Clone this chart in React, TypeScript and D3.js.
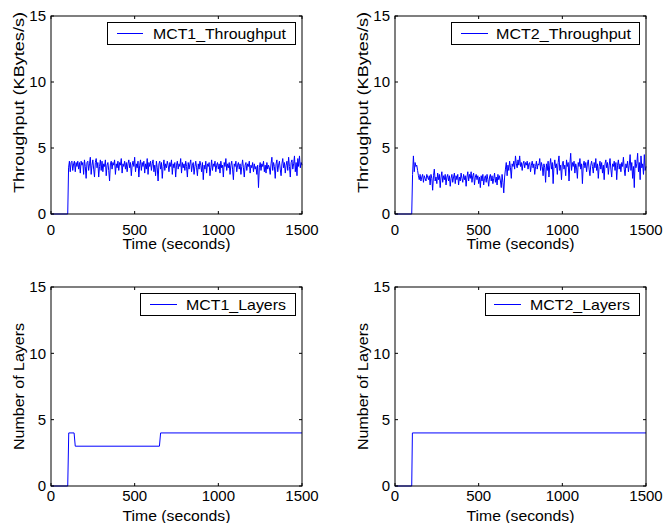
import React from "react";
import * as d3 from "d3";

// ---------- DATA ----------
const xTicks = [0, 500, 1000, 1500];
const yTicks = [0, 5, 10, 15];
const thrStart = 100; // seconds
const thrStep = 5; // seconds between samples

const mct1Throughput = [
  0,
  3.5, 4.0, 3.2, 3.9, 4.0, 3.3, 3.8, 4.0, 3.2, 3.9, 3.6, 4.0, 3.4, 3.9, 3.1, 4.0, 3.7, 3.9, 3.0, 4.1,
  3.6, 2.7, 3.9, 4.0, 3.3, 3.8, 4.3, 3.0, 3.7, 4.1, 3.4, 2.8, 3.9, 4.2, 3.5, 3.9, 2.8, 3.6, 4.1, 3.3,
  4.0, 3.2, 3.8, 3.6, 4.1, 2.9, 3.7, 3.9, 3.3, 2.5, 3.8, 4.0, 3.4, 3.9, 3.7, 4.1, 3.0, 3.8, 3.5, 4.0,
  3.3, 3.9, 3.7, 4.2, 3.1, 3.8, 3.6, 4.0, 3.4, 3.9, 3.2, 3.8, 4.1, 3.5, 3.9, 2.9, 3.7, 4.0, 3.6, 4.3,
  3.2, 3.8, 3.5, 4.0, 2.8, 3.7, 4.1, 3.3, 3.9, 3.6, 4.0, 3.1, 3.8, 3.4, 4.2, 3.0, 3.9, 3.6, 4.0, 3.3,
  3.8, 4.1, 3.2, 3.7, 2.9, 4.0, 3.5, 2.5, 3.8, 4.0, 3.4, 3.9, 2.7, 3.6, 4.1, 3.3, 3.8, 3.5, 4.0, 3.7,
  3.2, 3.9, 3.6, 4.1, 3.0, 3.8, 3.5, 3.9, 2.8, 3.7, 4.0, 3.4, 3.8, 3.6, 4.2, 3.1, 3.9, 3.5, 3.8, 3.3,
  4.0, 3.6, 2.8, 3.9, 3.4, 3.8, 4.1, 3.2, 3.7, 3.9, 3.0, 3.6, 4.0, 3.5, 2.9, 3.8, 3.4, 4.0, 3.7, 3.2,
  3.9, 2.6, 3.7, 3.4, 4.0, 3.1, 3.8, 3.6, 3.9, 2.9, 3.5, 4.1, 3.3, 3.8, 3.6, 4.0, 3.2, 3.7, 3.9, 3.4,
  3.8, 3.1, 4.0, 3.5, 3.7, 2.8, 3.9, 3.6, 4.2, 3.3, 3.8, 3.5, 3.9, 3.0, 3.7, 4.0, 3.4, 2.6, 3.8, 3.6,
  4.0, 3.2, 3.7, 3.9, 3.4, 3.8, 3.0, 3.6, 4.1, 3.5, 2.8, 3.7, 3.9, 3.3, 3.8, 3.6, 4.0, 3.1, 3.7, 3.5,
  3.9, 3.2, 3.8, 3.4, 3.6, 3.0, 3.7, 2.0, 3.5, 3.9, 3.3, 3.8, 3.6, 4.0, 3.2, 3.7, 3.1, 3.9, 3.4, 3.7,
  3.5, 3.0, 3.8, 4.3, 3.3, 3.9, 3.6, 2.7, 3.8, 4.1, 3.2, 3.7, 4.0, 3.4, 2.9, 3.8, 4.2, 3.5, 3.9, 3.1,
  3.7, 4.0, 3.3, 4.3, 3.6, 2.8, 3.9, 4.1, 3.4, 3.8, 4.4, 3.2, 3.9, 2.9, 4.2, 3.6, 4.4, 3.5, 3.9, 3.7,
];

const mct2Throughput = [
  0,
  3.0, 4.4, 3.2, 3.9, 3.6, 3.7, 3.3, 2.9, 2.6, 3.0, 2.5, 2.8, 3.0, 2.4, 2.9, 2.7, 2.5, 3.0, 2.8, 2.6,
  2.9, 2.2, 3.0, 2.7, 1.8, 2.9, 3.4, 2.5, 2.8, 2.3, 3.1, 2.6, 3.0, 2.0, 2.8, 3.2, 2.4, 2.9, 2.6, 3.0,
  2.2, 2.8, 3.0, 2.5, 2.9, 2.1, 2.7, 3.0, 2.4, 2.8, 3.1, 2.3, 2.9, 2.6, 3.0, 2.2, 2.8, 2.5, 3.1, 2.7,
  2.4, 3.0, 2.6, 2.9, 2.1, 2.8, 3.2, 2.5, 3.0, 2.7, 3.2, 2.4, 2.9, 3.1, 2.2, 2.8, 3.0, 2.6, 2.9, 2.3,
  2.8, 2.0, 2.9, 2.5, 3.0, 2.2, 2.7, 2.9, 2.4, 3.0, 2.6, 2.1, 2.8, 3.0, 2.5, 2.9, 2.3, 2.7, 3.1, 2.4,
  2.8, 2.2, 3.0, 2.6, 2.9, 2.5, 2.0, 3.0, 2.4, 1.6, 2.8, 3.4, 3.9, 2.9, 3.7, 3.3, 4.0, 3.5, 2.7, 3.8,
  3.6, 4.0, 3.4, 4.4, 3.8, 3.5, 4.1, 3.7, 4.4, 3.6, 3.9, 3.3, 3.8, 4.0, 3.5, 3.9, 3.7, 4.0, 3.4, 3.8,
  3.9, 3.2, 3.7, 4.0, 3.5, 3.8, 3.0, 3.6, 4.0, 3.4, 3.8, 3.7, 4.2, 3.3, 3.9, 3.6, 2.9, 3.8, 3.5, 2.4,
  3.8, 3.3, 4.0, 2.8, 3.7, 4.2, 3.4, 3.9, 2.3, 3.6, 4.1, 3.5, 3.8, 3.0, 3.9, 4.4, 3.3, 3.7, 2.6, 3.8,
  4.0, 3.4, 3.7, 2.9, 4.1, 3.6, 3.9, 2.5, 3.8, 4.6, 3.3, 3.9, 3.6, 4.0, 3.1, 3.8, 3.5, 2.7, 3.9, 3.6,
  4.2, 3.4, 3.8, 2.3, 3.7, 4.0, 3.5, 3.9, 3.2, 3.8, 4.1, 3.4, 2.9, 3.7, 4.0, 3.6, 3.1, 3.9, 3.5, 4.2,
  3.3, 3.8, 2.7, 3.6, 4.0, 3.4, 3.9, 3.1, 3.7, 2.6, 3.8, 4.1, 3.5, 3.9, 3.0, 3.7, 4.2, 3.4, 2.8, 3.8,
  3.6, 4.0, 3.3, 3.9, 2.6, 3.7, 4.1, 3.4, 3.8, 3.2, 3.9, 3.6, 4.3, 3.4, 2.9, 3.8, 3.5, 4.0, 3.2, 3.7,
  4.5, 3.3, 3.9, 2.7, 3.6, 2.0, 4.1, 3.5, 3.8, 4.6, 3.2, 3.9, 2.6, 4.4, 3.5, 3.8, 3.0, 4.5, 3.3, 3.6,
];

const mct1LayerTimes = [0, 100, 106, 138, 145, 648, 655, 1500];
const mct1LayerValues = [0, 0, 4, 4, 3, 3, 4, 4];
const mct2LayerTimes = [0, 100, 104, 1500];
const mct2LayerValues = [0, 0, 4, 4];

type Pt = [number, number];

function throughputPoints(vals: number[]): Pt[] {
  const pts: Pt[] = [[0, 0]];
  vals.forEach((v, i) => pts.push([thrStart + i * thrStep, v]));
  return pts;
}
function stepPoints(ts: number[], vs: number[]): Pt[] {
  return ts.map((t, i) => [t, vs[i]] as Pt);
}

const FONT = "'Liberation Sans', Arial, Helvetica, sans-serif";
const BLUE = "#0000ff";

interface PanelProps {
  left: number;
  right: number;
  top: number;
  bottom: number;
  data: Pt[];
  yLabel: string;
  yLabelLen: number;
  yLabelCenter: number;
  yLabelX: number;
  xTickBaseline: number;
  xLabelBaseline: number;
  legend: string;
  legendBox: { x0: number; x1: number; y0: number; y1: number; lx0: number; lx1: number; tx: number; tLen: number };
}

function Panel(p: PanelProps) {
  const x = d3.scaleLinear().domain([0, 1500]).range([p.left, p.right]);
  const y = d3.scaleLinear().domain([0, 15]).range([p.bottom, p.top]);
  const line = d3
    .line<Pt>()
    .x((d) => x(d[0]))
    .y((d) => y(d[1]));
  const tl = 3;
  const lb = p.legendBox;
  const ly = (lb.y0 + lb.y1) / 2;
  const xMid = (p.left + p.right) / 2;
  return (
    <g fontFamily={FONT} fill="#000">
      <path d={line(p.data) || ""} fill="none" stroke={BLUE} strokeWidth={1} />
      {/* frame */}
      <rect
        x={p.left}
        y={p.top}
        width={p.right - p.left}
        height={p.bottom - p.top}
        fill="none"
        stroke="#000"
        strokeWidth={1}
      />
      {/* x ticks */}
      {xTicks.map((t) => (
        <g key={"xt" + t}>
          <line x1={x(t)} x2={x(t)} y1={p.bottom} y2={p.bottom - tl} stroke="#000" />
          <line x1={x(t)} x2={x(t)} y1={p.top} y2={p.top + tl} stroke="#000" />
          <text x={x(t)} y={p.xTickBaseline} fontSize={15} textAnchor="middle">
            {t}
          </text>
        </g>
      ))}
      {/* y ticks */}
      {yTicks.map((t) => (
        <g key={"yt" + t}>
          <line x1={p.left} x2={p.left + tl} y1={y(t)} y2={y(t)} stroke="#000" />
          <line x1={p.right} x2={p.right - tl} y1={y(t)} y2={y(t)} stroke="#000" />
          <text x={p.left - 5} y={y(t)} dy="0.36em" fontSize={15} textAnchor="end">
            {t}
          </text>
        </g>
      ))}
      {/* axis labels */}
      <text
        x={xMid}
        y={p.xLabelBaseline}
        fontSize={15}
        textAnchor="middle"
        textLength={108}
        lengthAdjust="spacingAndGlyphs"
      >
        Time (seconds)
      </text>
      <text
        transform={`translate(${p.yLabelX},${p.yLabelCenter}) rotate(-90)`}
        fontSize={15}
        textAnchor="middle"
        textLength={p.yLabelLen}
        lengthAdjust="spacingAndGlyphs"
      >
        {p.yLabel}
      </text>
      {/* legend */}
      <rect
        x={lb.x0}
        y={lb.y0}
        width={lb.x1 - lb.x0}
        height={lb.y1 - lb.y0}
        fill="#fff"
        stroke="#000"
        strokeWidth={1}
      />
      <line x1={lb.lx0} x2={lb.lx1} y1={ly} y2={ly} stroke={BLUE} strokeWidth={1} />
      <text
        x={lb.tx}
        y={ly}
        dy="0.36em"
        fontSize={15}
        textLength={lb.tLen}
        lengthAdjust="spacingAndGlyphs"
      >
        {p.legend}
      </text>
    </g>
  );
}

export default function App() {
  return (
    <svg
      width={666}
      height={523}
      style={{ position: "absolute", left: 0, top: 0, background: "#fff" }}
    >
      <rect width={666} height={523} fill="#fff" />
      <Panel
        left={51}
        right={302}
        top={16}
        bottom={214}
        data={throughputPoints(mct1Throughput)}
        yLabel="Throughput (KBytes/s)"
        yLabelLen={181}
        yLabelCenter={102.5}
        yLabelX={24}
        xTickBaseline={235}
        xLabelBaseline={249}
        legend="MCT1_Throughput"
        legendBox={{ x0: 107.5, x1: 295.5, y0: 22.5, y1: 44.5, lx0: 117, lx1: 143, tx: 153, tLen: 133 }}
      />
      <Panel
        left={395}
        right={646}
        top={16}
        bottom={214}
        data={throughputPoints(mct2Throughput)}
        yLabel="Throughput (KBytes/s)"
        yLabelLen={181}
        yLabelCenter={102.5}
        yLabelX={368}
        xTickBaseline={235}
        xLabelBaseline={249}
        legend="MCT2_Throughput"
        legendBox={{ x0: 451.5, x1: 639.5, y0: 22.5, y1: 44.5, lx0: 461, lx1: 488, tx: 496, tLen: 135 }}
      />
      <Panel
        left={51}
        right={302}
        top={287}
        bottom={486}
        data={stepPoints(mct1LayerTimes, mct1LayerValues)}
        yLabel="Number of Layers"
        yLabelLen={127}
        yLabelCenter={386.5}
        yLabelX={24}
        xTickBaseline={501}
        xLabelBaseline={521}
        legend="MCT1_Layers"
        legendBox={{ x0: 140.5, x1: 295.5, y0: 293.5, y1: 315.5, lx0: 150, lx1: 177, tx: 186, tLen: 100 }}
      />
      <Panel
        left={395}
        right={646}
        top={287}
        bottom={486}
        data={stepPoints(mct2LayerTimes, mct2LayerValues)}
        yLabel="Number of Layers"
        yLabelLen={127}
        yLabelCenter={386.5}
        yLabelX={368}
        xTickBaseline={501}
        xLabelBaseline={521}
        legend="MCT2_Layers"
        legendBox={{ x0: 485.5, x1: 639.5, y0: 293.5, y1: 315.5, lx0: 494, lx1: 521, tx: 530, tLen: 100 }}
      />
    </svg>
  );
}
